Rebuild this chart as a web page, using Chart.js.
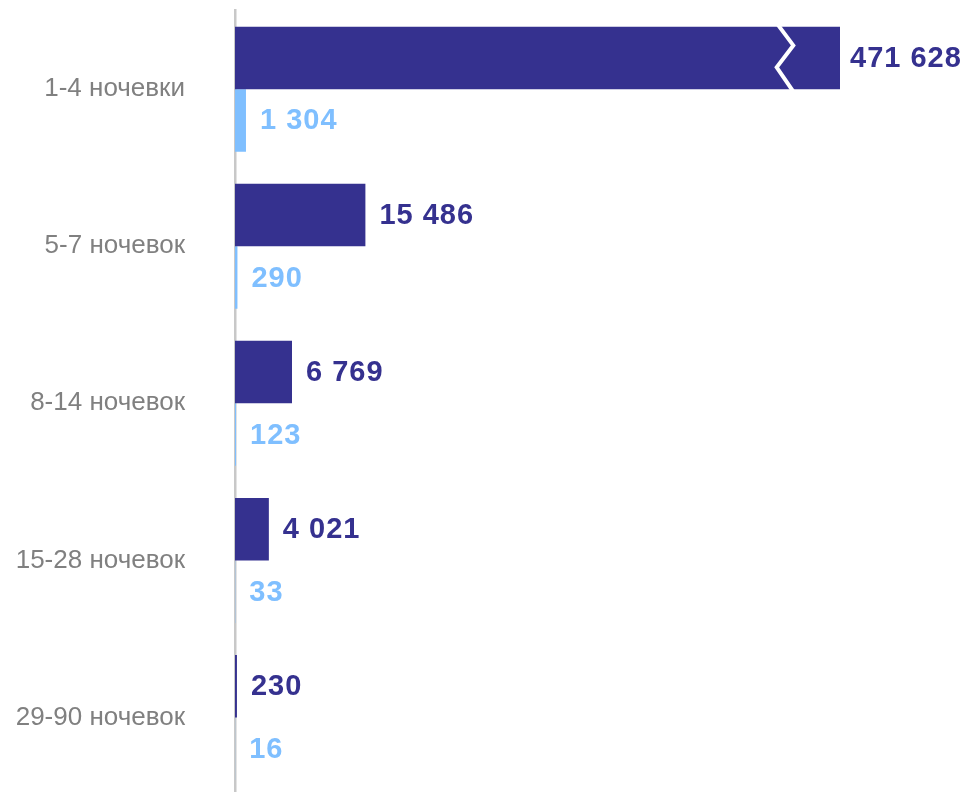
<!DOCTYPE html>
<html>
<head>
<meta charset="utf-8">
<script src="https://cdn.jsdelivr.net/npm/chart.js@4"></script>
<style>
  html, body { margin: 0; padding: 0; background: #ffffff; }
  #wrap { width: 971px; height: 792px; overflow: hidden; position: relative; }
  canvas { display: block; }
</style>
</head>
<body>
<div id="wrap"><canvas id="c" width="971" height="810"></canvas></div>
<script>
// ---- data ----
const categories = ['1-4 ночевки', '5-7 ночевок', '8-14 ночевок', '15-28 ночевок', '29-90 ночевок'];
const seriesDark = [471628, 15486, 6769, 4021, 230];
const seriesLight = [1304, 290, 123, 33, 16];
// visible part of value axis (bars above this are drawn broken)
const axisMax = 71850;

const DARK = '#35318F';
const LIGHT = '#7FBFFF';

function fmt(v) {
  return String(v).replace(/\B(?=(\d{3})+(?!\d))/g, ' ');
}

const valueLabels = {
  id: 'valueLabels',
  afterDatasetsDraw(chart) {
    const ctx = chart.ctx;
    const area = chart.chartArea;
    ctx.save();
    ctx.font = 'bold 29px "Liberation Sans", Arial, sans-serif';
    try { ctx.letterSpacing = '1px'; } catch (e) {}
    ctx.textAlign = 'left';
    ctx.textBaseline = 'middle';
    chart.data.datasets.forEach((ds, di) => {
      const meta = chart.getDatasetMeta(di);
      meta.data.forEach((el, i) => {
        const v = ds.data[i];
        const x = el.x > area.right ? area.right + 10 : el.x + 14;
        ctx.fillStyle = ds.backgroundColor;
        ctx.fillText(fmt(v), x, el.y + 1);
      });
    });
    ctx.restore();
  }
};

const axisBreak = {
  id: 'axisBreak',
  afterDatasetsDraw(chart) {
    const ctx = chart.ctx;
    const area = chart.chartArea;
    ctx.save();
    ctx.strokeStyle = '#ffffff';
    ctx.lineWidth = 4;
    ctx.lineJoin = 'miter';
    chart.data.datasets.forEach((ds, di) => {
      const meta = chart.getDatasetMeta(di);
      meta.data.forEach((el) => {
        if (el.x <= area.right) return;
        const top = el.y - el.height / 2;
        const h = el.height;
        const r = area.right;
        ctx.beginPath();
        ctx.moveTo(r - 62.2, top - 2);
        ctx.lineTo(r - 46.7, top + h * 0.3);
        ctx.lineTo(r - 63.3, top + h * 0.65);
        ctx.lineTo(r - 47.0, top + h + 2);
        ctx.stroke();
      });
    });
    ctx.restore();
  }
};

new Chart(document.getElementById('c'), {
  type: 'bar',
  data: {
    labels: categories,
    datasets: [
      { data: seriesDark, backgroundColor: DARK, borderWidth: 0, clip: 0,
        categoryPercentage: 0.796, barPercentage: 1.0 },
      { data: seriesLight, backgroundColor: LIGHT, borderWidth: 0, clip: 0,
        categoryPercentage: 0.796, barPercentage: 1.0 }
    ]
  },
  options: {
    indexAxis: 'y',
    responsive: false,
    animation: false,
    layout: { padding: { top: 10.65, bottom: 14, left: 0, right: 131 } },
    plugins: { legend: { display: false }, tooltip: { enabled: false } },
    scales: {
      x: { display: false, min: 0, max: axisMax },
      y: {
        position: 'left',
        afterFit(s) { s.width = 235; },
        grid: { display: false, drawTicks: true, tickLength: 50 },
        border: { display: true, color: '#C8C8C8', width: 2.5 },
        ticks: {
          color: '#808080',
          padding: 0,
          font: { family: '"Liberation Sans", Arial, sans-serif', size: 26, lineHeight: 0.6 }
        }
      }
    }
  },
  plugins: [valueLabels, axisBreak]
});
</script>
</body>
</html>
